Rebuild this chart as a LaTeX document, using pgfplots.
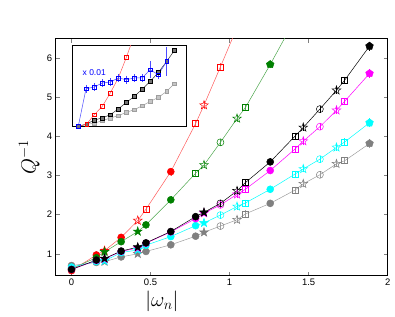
\documentclass[border=0pt]{standalone}
\usepackage{fontspec}
\setmainfont{Liberation Sans}
\usepackage{pgfplots}
\pgfplotsset{compat=1.18}
\usetikzlibrary{plotmarks}
\pgfdeclareplotmark{pstar}{%
  \pgfpathmoveto{\pgfpointpolar{90}{1.3\pgfplotmarksize}}%
  \pgfpathlineto{\pgfpointpolar{126}{0.52\pgfplotmarksize}}%
  \pgfpathlineto{\pgfpointpolar{162}{1.3\pgfplotmarksize}}%
  \pgfpathlineto{\pgfpointpolar{198}{0.52\pgfplotmarksize}}%
  \pgfpathlineto{\pgfpointpolar{234}{1.3\pgfplotmarksize}}%
  \pgfpathlineto{\pgfpointpolar{270}{0.52\pgfplotmarksize}}%
  \pgfpathlineto{\pgfpointpolar{306}{1.3\pgfplotmarksize}}%
  \pgfpathlineto{\pgfpointpolar{342}{0.52\pgfplotmarksize}}%
  \pgfpathlineto{\pgfpointpolar{18}{1.3\pgfplotmarksize}}%
  \pgfpathlineto{\pgfpointpolar{54}{0.52\pgfplotmarksize}}%
  \pgfpathclose\pgfusepathqfillstroke}
\pgfdeclareplotmark{pstaro}{%
  \pgfpathmoveto{\pgfpointpolar{90}{1.3\pgfplotmarksize}}%
  \pgfpathlineto{\pgfpointpolar{126}{0.52\pgfplotmarksize}}%
  \pgfpathlineto{\pgfpointpolar{162}{1.3\pgfplotmarksize}}%
  \pgfpathlineto{\pgfpointpolar{198}{0.52\pgfplotmarksize}}%
  \pgfpathlineto{\pgfpointpolar{234}{1.3\pgfplotmarksize}}%
  \pgfpathlineto{\pgfpointpolar{270}{0.52\pgfplotmarksize}}%
  \pgfpathlineto{\pgfpointpolar{306}{1.3\pgfplotmarksize}}%
  \pgfpathlineto{\pgfpointpolar{342}{0.52\pgfplotmarksize}}%
  \pgfpathlineto{\pgfpointpolar{18}{1.3\pgfplotmarksize}}%
  \pgfpathlineto{\pgfpointpolar{54}{0.52\pgfplotmarksize}}%
  \pgfpathclose\pgfusepathqstroke}
\definecolor{dgreen}{rgb}{0,0.5,0}
\definecolor{lgreen}{rgb}{0.3,0.65,0.3}
\definecolor{mgray}{rgb}{0.5,0.5,0.5}
\definecolor{lgray}{rgb}{0.62,0.62,0.62}
\definecolor{mmag}{rgb}{1,0,1}
\definecolor{mcyan}{rgb}{0,1,1}
\definecolor{mred}{rgb}{1,0,0}
\definecolor{lred}{rgb}{1,0.35,0.35}
\definecolor{mblue}{rgb}{0,0,1}
\definecolor{lblue}{rgb}{0.3,0.3,1}
\pgfplotsset{
  cls/.style={scatter, point meta=explicit symbolic,
    scatter/classes={
      f={mark=*,mark size=3.5bp,draw=#1,fill=#1},
      s={mark=pstar,mark size=3.5bp,draw=#1,fill=#1},
      t={mark=pstaro,mark size=3.5bp,draw=#1},
      c={mark=o,mark size=3.5bp,draw=#1},
      q={mark=square,mark size=3bp,draw=#1},
      p={mark=pentagon*,mark size=4bp,draw=#1,fill=#1}},
    error bars/.cd, y dir=both, y explicit, error bar style={line width=0.5bp},
    error mark options={mark size=1.5bp,line width=0.5bp}},
}
\begin{document}
\begin{tikzpicture}
\begin{axis}[name=main, at={(0,0)}, anchor=south west,
  scale only axis, width=332bp, height=237bp,
  xmin=-0.1, xmax=2, ymin=0.44, ymax=6.5,
  xtick={0,0.5,1,1.5,2}, ytick={1,2,3,4,5,6},
  xticklabels={0,0.5,1,1.5,2},
  major tick length=4bp,
  tick style={line width=0.5bp},
  axis line style={line width=0.6bp},
  /pgf/number format/assume math mode=true,
  ticklabel style={font=\fontsize{9.5}{11}\selectfont},
  xlabel={$|\omega_n|$}, ylabel={$Q^{-1}$},
  label style={font=\huge},
  xlabel style={at={(axis description cs:0.32,0)}, anchor=center, yshift=-26bp},
  ylabel style={at={(axis description cs:-0.08,0.5)}, anchor=center},
]
% red
\addplot[color=lred, line width=0.5bp, cls=mred] table[x=x,y=y,y error=e,meta=m]{
x y e m
0 0.57 0 f
0.157 0.97 0 f
0.209 1.08 0 s
0.314 1.42 0 f
0.419 1.85 0.05 t
0.471 2.14 0.05 q
0.628 3.10 0.06 f
0.785 4.33 0.06 q
0.838 4.80 0.06 t
0.942 5.78 0.06 q
1.10 7.30 0.06 q
};
% green
\addplot[color=lgreen, line width=0.5bp, cls=dgreen] table[x=x,y=y,y error=e,meta=m]{
x y e m
0 0.62 0 f
0.157 0.90 0 f
0.209 1.05 0 s
0.314 1.31 0 f
0.419 1.57 0 s
0.471 1.74 0 f
0.628 2.38 0.05 f
0.785 3.06 0.05 q
0.838 3.27 0.05 t
0.942 3.85 0.05 c
1.047 4.46 0.05 t
1.10 4.74 0.05 q
1.257 5.84 0.06 p
1.414 7.00 0.06 c
};
% gray
\addplot[color=lgray, line width=0.5bp, cls=mgray] table[x=x,y=y,y error=e,meta=m]{
x y e m
0 0.70 0 f
0.157 0.78 0 f
0.209 0.80 0 s
0.314 0.92 0 f
0.419 1.00 0 s
0.471 1.06 0 f
0.628 1.23 0 f
0.785 1.45 0 f
0.838 1.55 0 s
0.942 1.71 0.05 c
1.047 1.87 0.05 t
1.10 2.02 0.05 q
1.257 2.29 0.05 f
1.414 2.63 0.05 q
1.466 2.79 0.05 t
1.571 3.02 0.05 c
1.676 3.30 0.05 t
1.728 3.38 0.05 q
1.885 3.82 0.08 p
};
% cyan
\addplot[color=mcyan, line width=0.5bp, cls=mcyan] table[x=x,y=y,y error=e,meta=m]{
x y e m
0 0.66 0 f
0.157 0.80 0 f
0.209 0.82 0 s
0.314 1.03 0 f
0.419 1.10 0 s
0.471 1.22 0 f
0.628 1.44 0 f
0.785 1.72 0 f
0.838 1.79 0 s
0.942 1.99 0.05 c
1.047 2.21 0.05 t
1.10 2.30 0.05 q
1.257 2.65 0.05 f
1.414 3.04 0.05 q
1.466 3.17 0.05 t
1.571 3.42 0.05 c
1.676 3.72 0.05 t
1.728 3.86 0.05 q
1.885 4.35 0.08 p
};
% magenta
\addplot[color=mmag, line width=0.5bp, cls=mmag] table[x=x,y=y,y error=e,meta=m]{
x y e m
0 0.60 0 f
0.157 0.83 0 f
0.209 0.87 0 s
0.314 1.06 0 f
0.419 1.15 0 s
0.471 1.27 0 f
0.628 1.56 0 f
0.785 1.90 0 f
0.838 2.04 0 s
0.942 2.25 0.05 c
1.047 2.52 0.05 t
1.10 2.65 0.05 q
1.257 3.13 0.05 f
1.414 3.68 0.05 q
1.466 3.88 0.05 t
1.571 4.25 0.05 c
1.676 4.67 0.05 t
1.728 4.90 0.05 q
1.885 5.61 0.08 p
};
% black
\addplot[color=black, line width=0.5bp, cls=black] table[x=x,y=y,y error=e,meta=m]{
x y e m
0 0.60 0 f
0.157 0.84 0 f
0.209 0.88 0 s
0.314 1.07 0 f
0.419 1.17 0 s
0.471 1.28 0 f
0.628 1.57 0 f
0.785 1.95 0 f
0.838 2.06 0 s
0.942 2.29 0.05 c
1.047 2.61 0.05 t
1.10 2.82 0.05 q
1.257 3.35 0.05 f
1.414 4.01 0.05 q
1.466 4.23 0.05 t
1.571 4.70 0.05 c
1.676 5.18 0.05 t
1.728 5.44 0.05 q
1.885 6.31 0.08 p
};
\end{axis}
\begin{axis}[at={(16.6bp,149.3bp)}, anchor=south west,
  scale only axis, width=114.4bp, height=81bp,
  xmin=0, xmax=1, ymin=0, ymax=1,
  xtick=\empty, ytick=\empty,
  axis background/.style={fill=white},
  axis line style={line width=0.7bp},
  every axis plot/.append style={line width=0.5bp, mark size=1.8bp},
]
\addplot[color=lgray, mark=square*, mark options={draw=lgray, fill=lgray!60}] table{
0.052 0
0.126 0.025
0.192 0.04
0.262 0.07
0.332 0.104
0.402 0.132
0.472 0.173
0.542 0.206
0.612 0.255
0.682 0.309
0.752 0.358
0.825 0.432
0.892 0.527
};
\addplot[color=black!80, mark=square*, mark options={draw=black, fill=black!55}] table{
0.052 0
0.126 0.03
0.192 0.079
0.262 0.104
0.332 0.144
0.402 0.215
0.472 0.296
0.542 0.370
0.612 0.461
0.682 0.556
0.752 0.667
0.825 0.802
0.892 0.938
};
\addplot[color=lred, mark=square, mark options={draw=mred}] table{
0.052 0
0.126 0.03
0.192 0.144
0.262 0.247
0.332 0.412
0.402 0.598
0.472 0.85
0.54 1.12
};
\addplot[color=lblue, mark=square, mark options={draw=mblue},
  error bars/.cd, y dir=both, y explicit, error mark options={mark size=1.5bp}] table[x=x,y=y,y error=e]{
x y e
0.052 0 0
0.12 0.465 0.03
0.19 0.486 0.03
0.262 0.536 0.03
0.332 0.548 0.03
0.402 0.598 0.03
0.472 0.577 0.03
0.542 0.598 0.03
0.612 0.598 0.03
0.679 0.70 0.09
0.752 0.638 0.04
0.825 0.802 0.16
};
\node[anchor=west, text=mblue, font=\fontsize{8.5}{10}\selectfont] at (axis cs:0.06,0.66) {x 0.01};
\end{axis}
\path (-55.7bp,-41bp) rectangle (339.3bp,275.7bp);
\end{tikzpicture}
\end{document}
